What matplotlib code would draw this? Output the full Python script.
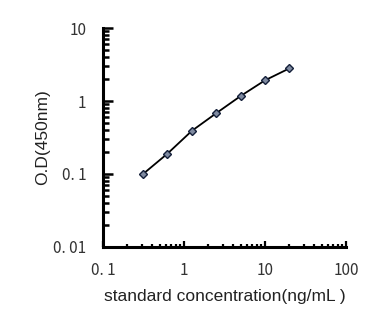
import matplotlib
matplotlib.use("Agg")
import matplotlib.pyplot as plt
from matplotlib.ticker import LogLocator, FixedLocator, FixedFormatter, NullFormatter

# Standard curve: concentration (ng/mL) vs optical density at 450 nm
concentration = [0.3125, 0.625, 1.25, 2.5, 5, 10, 20]
od450 = [0.10, 0.19, 0.39, 0.68, 1.17, 1.92, 2.80]

x_ticks = [0.1, 1, 10, 100]
x_tick_labels = ["0. 1", "1", "10", "100"]
y_ticks = [0.01, 0.1, 1, 10]
y_tick_labels = ["0. 01", "0. 1", "1", "10"]

fig = plt.figure(figsize=(3.86, 3.28), dpi=100)
ax = fig.add_axes([0.2668, 0.2470, 0.6296, 0.6676])

ax.plot(concentration, od450, color="black", lw=1.3, marker="D", ms=3.6,
        mfc="#7f8aa0", mec="#14203a", mew=1.0)

ax.set_xscale("log")
ax.set_yscale("log")
ax.set_xlim(0.1, 100)
ax.set_ylim(0.01, 10)

tick_font = {"family": ["Noto Sans CJK JP", "DejaVu Sans"], "size": 11, "color": "#333333"}
ax.xaxis.set_major_locator(FixedLocator(x_ticks))
ax.xaxis.set_major_formatter(FixedFormatter(x_tick_labels))
ax.yaxis.set_major_locator(FixedLocator(y_ticks))
ax.yaxis.set_major_formatter(FixedFormatter(y_tick_labels))
ax.xaxis.set_minor_locator(LogLocator(base=10, subs=range(2, 10)))
ax.yaxis.set_minor_locator(LogLocator(base=10, subs=range(2, 10)))
ax.xaxis.set_minor_formatter(NullFormatter())
ax.yaxis.set_minor_formatter(NullFormatter())
for lab in ax.get_xticklabels() + ax.get_yticklabels():
    lab.set_fontfamily(tick_font["family"])
    lab.set_fontsize(tick_font["size"])
    lab.set_color(tick_font["color"])

ax.tick_params(axis="x", which="major", direction="in", length=4, width=1.6, pad=11)
ax.tick_params(axis="x", which="minor", direction="in", length=2.5, width=1.6)
ax.tick_params(axis="y", which="major", direction="in", length=7, width=1.8, pad=12)
ax.tick_params(axis="y", which="minor", direction="in", length=4, width=1.8)

for side in ("top", "right"):
    ax.spines[side].set_visible(False)
for side in ("left", "bottom"):
    ax.spines[side].set_linewidth(2.2)

label_font = {"family": ["Liberation Sans", "DejaVu Sans"], "size": 12.5, "color": "#222222"}
ax.set_xlabel("standard concentration(ng/mL )", fontdict=label_font, labelpad=7)
ax.set_ylabel("O.D(450nm)", fontdict=label_font, labelpad=2)

fig.savefig("out.png", dpi=100)
